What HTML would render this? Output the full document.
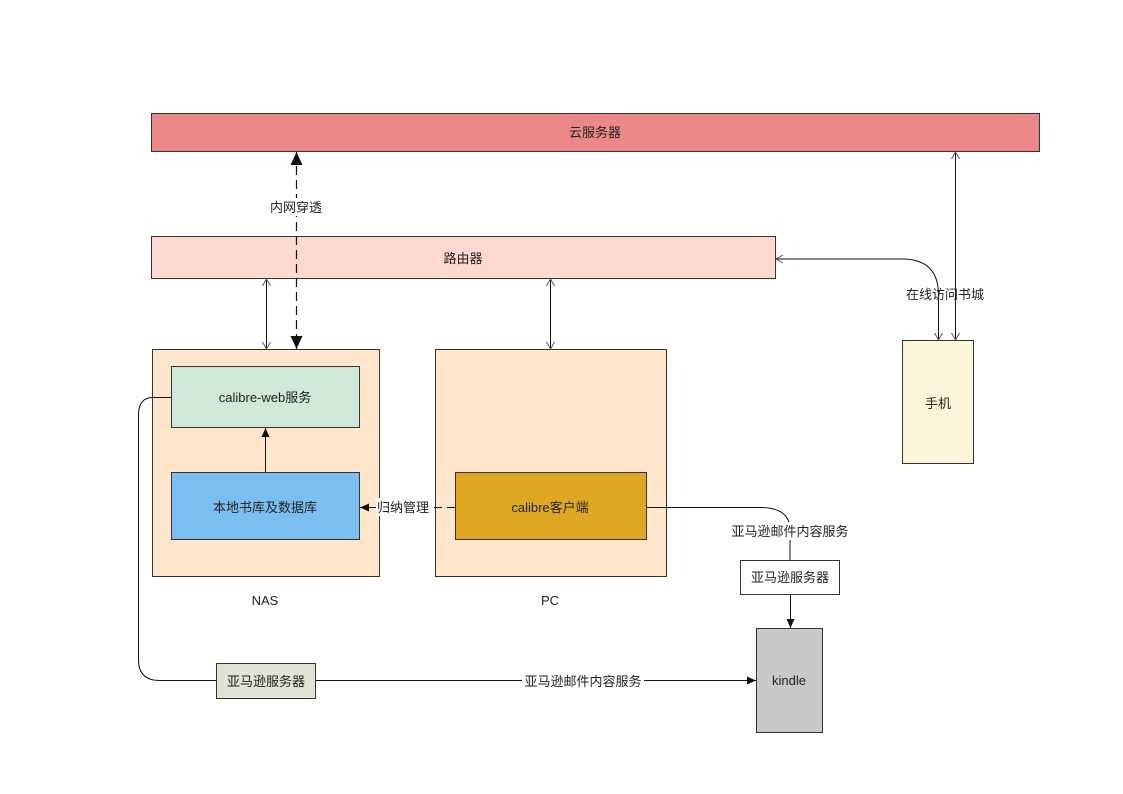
<!DOCTYPE html>
<html><head><meta charset="utf-8"><style>
html,body{margin:0;padding:0;background:#fff;}
svg{display:block;}
text{font-family:"Liberation Sans","Noto Sans CJK SC",sans-serif;font-size:13px;fill:#222;}
</style></head><body>
<svg width="1123" height="794" viewBox="0 0 1123 794" xmlns="http://www.w3.org/2000/svg">
<defs>
<marker id="fa" markerWidth="10" markerHeight="10" refX="9" refY="5" orient="auto-start-reverse" markerUnits="userSpaceOnUse"><path d="M0,1 L9,5 L0,9 Z" fill="#111"/></marker>
<marker id="fb" markerWidth="14" markerHeight="14" refX="13" refY="7" orient="auto-start-reverse" markerUnits="userSpaceOnUse"><path d="M0,1 L13,7 L0,13 Z" fill="#111"/></marker>
<marker id="oa" markerWidth="10" markerHeight="10" refX="9" refY="5" orient="auto-start-reverse" markerUnits="userSpaceOnUse"><path d="M2,1 L9,5 L2,9" fill="none" stroke="#555" stroke-width="1"/></marker>
</defs>
<g stroke="#333" stroke-width="1">
<rect x="151.5" y="113.5" width="888" height="38" fill="#ec8988"/>
<rect x="151.5" y="236.5" width="624" height="42" fill="#fdd9d0"/>
<rect x="152.5" y="349.5" width="227" height="227" fill="#ffe6cc"/>
<rect x="171.5" y="366.5" width="188" height="61" fill="#d0e8d8"/>
<rect x="171.5" y="472.5" width="188" height="67" fill="#7bbff1"/>
<rect x="435.5" y="349.5" width="231" height="227" fill="#ffe6cc"/>
<rect x="455.5" y="472.5" width="191" height="67" fill="#e0a822"/>
<rect x="902.5" y="340.5" width="71" height="123" fill="#fbf5d9"/>
<rect x="740.5" y="560.5" width="99" height="34" fill="#fff"/>
<rect x="756.5" y="628.5" width="66" height="104" fill="#c9c9c9"/>
<rect x="216.5" y="663.5" width="99" height="35" fill="#e2e2d6"/>
</g>
<g fill="none" stroke="#111" stroke-width="1">
<line x1="266.5" y1="279" x2="266.5" y2="349" marker-start="url(#oa)" marker-end="url(#oa)"/>
<line x1="296.5" y1="152" x2="296.5" y2="349" stroke-dasharray="9,5" marker-start="url(#fb)" marker-end="url(#fb)" stroke-width="1.2"/>
<line x1="550.5" y1="279" x2="550.5" y2="349" marker-start="url(#oa)" marker-end="url(#oa)"/>
<line x1="955.5" y1="152" x2="955.5" y2="340" marker-start="url(#oa)" marker-end="url(#oa)"/>
<path d="M938.5,340 L938.5,295 Q938.5,259 902,259 L776,259" marker-start="url(#oa)" marker-end="url(#oa)"/>
<line x1="265.5" y1="472" x2="265.5" y2="428" marker-end="url(#fa)"/>
<line x1="455" y1="507.5" x2="360" y2="507.5" stroke-dasharray="8,5" marker-end="url(#fa)"/>
<path d="M647,507.5 L760,507.5 Q790,507.5 790,530 L790,560"/>
<line x1="790.5" y1="595" x2="790.5" y2="628" marker-end="url(#fa)"/>
<path d="M171,397.5 L153,397.5 Q138.5,397.5 138.5,415 L138.5,660 Q138.5,680.5 160,680.5 L216,680.5"/>
<line x1="316" y1="680.5" x2="756" y2="680.5" marker-end="url(#fa)"/>
</g>
<g text-anchor="middle">
<text x="595" y="137">云服务器</text>
<text x="463" y="263">路由器</text>
<rect x="262" y="198" width="68" height="18" fill="#fff"/>
<text x="296" y="212">内网穿透</text>
<text x="265" y="402">calibre-web服务</text>
<text x="265" y="512">本地书库及数据库</text>
<rect x="376" y="498" width="56" height="18" fill="#fff"/>
<text x="403" y="512">归纳管理</text>
<text x="550" y="512">calibre客户端</text>
<text x="265" y="605">NAS</text>
<text x="550" y="605">PC</text>
<text x="945" y="299">在线访问书城</text>
<text x="938" y="408">手机</text>
<rect x="730" y="522" width="120" height="18" fill="#fff"/>
<text x="790" y="536">亚马逊邮件内容服务</text>
<text x="790" y="582">亚马逊服务器</text>
<text x="789" y="685">kindle</text>
<text x="266" y="686">亚马逊服务器</text>
<rect x="522" y="672" width="122" height="18" fill="#fff"/>
<text x="583" y="686">亚马逊邮件内容服务</text>
</g>
</svg>
</body></html>
